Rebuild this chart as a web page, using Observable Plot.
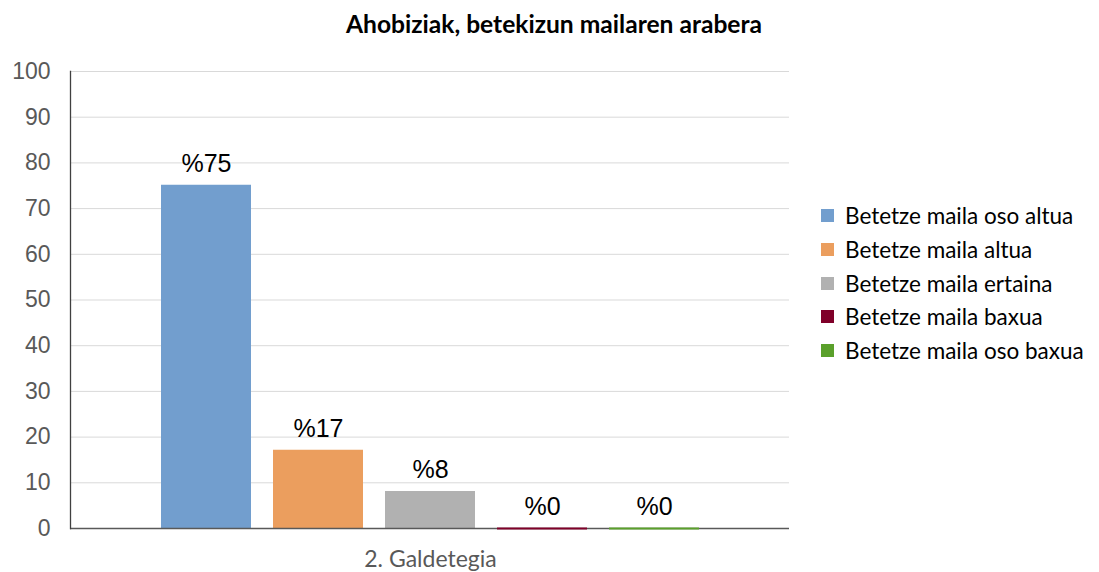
<!DOCTYPE html>
<html>
<head>
<meta charset="utf-8">
<script src="https://cdn.jsdelivr.net/npm/d3@7"></script>
<script src="https://cdn.jsdelivr.net/npm/@observablehq/plot@0.6"></script>
<style>
  html, body { margin: 0; padding: 0; background: #fff; }
  #wrap { position: relative; width: 1099px; height: 572px; overflow: hidden; }
  #title { position: absolute; left: 0; top: 0; width: 1099px; height: 50px; line-height: 48px;
           text-align: center; padding-left: 9px; box-sizing: border-box;
           font-family: Lato, sans-serif; font-weight: bold; font-size: 24.6px; color: #000; }
  #chart { position: absolute; left: 0; top: 50px; }
  #legend { position: absolute; left: 821px; top: 199px; font-family: Lato, sans-serif;
            font-size: 22.5px; color: #000; }
  .row { display: flex; align-items: center; height: 33.7px; white-space: nowrap; }
  .sw { width: 13px; height: 13px; margin-right: 11px; flex: none; }
</style>
</head>
<body>
<div id="wrap">
  <div id="title"></div>
  <div id="chart"></div>
  <div id="legend"></div>
</div>
<script>
const titleText = "Ahobiziak, betekizun mailaren arabera";
const category = "2. Galdetegia";
const series = ["Betetze maila oso altua", "Betetze maila altua", "Betetze maila ertaina", "Betetze maila baxua", "Betetze maila oso baxua"];
const values = [75, 17, 8, 0, 0];
const labels = ["%75", "%17", "%8", "%0", "%0"];
const colors = ["#729ece", "#eb9e5e", "#b1b1b1", "#7f0029", "#5aa02b"];
const yTicks = [0, 10, 20, 30, 40, 50, 60, 70, 80, 90, 100];

const data = series.map((s, i) => ({series: s, value: values[i], label: labels[i]}));

document.getElementById("title").textContent = titleText;

const plot = Plot.plot({
  width: 1099,
  height: 522,
  marginTop: 21,
  marginBottom: 44,
  marginLeft: 70,
  marginRight: 310,
  style: {fontFamily: "Liberation Sans, Arial, sans-serif", background: "#fff"},
  x: {domain: series, paddingInner: 0.2, paddingOuter: 0.7956, axis: null},
  y: {domain: [0, 100], ticks: yTicks, axis: null},
  color: {domain: series, range: colors},
  marks: [
    Plot.gridY(yTicks, {stroke: "#d9d9d9", strokeOpacity: 1, strokeWidth: 1}),
    Plot.barY(data, {x: "series", y: "value", fill: "series"}),
    Plot.ruleY([0], {stroke: "#595959", strokeWidth: 1.3}),
    Plot.tickY(data, {x: "series", y: "value", stroke: "series", strokeWidth: 2}),
    Plot.frame({anchor: "left", stroke: "#404040", strokeWidth: 1.3}),
    Plot.axisY(yTicks, {tickSize: 0, tickPadding: 0, dx: -20, fontSize: 23, fill: "#595959",
      fontFamily: "Liberation Sans, Arial, sans-serif", textAnchor: "end", label: null}),
    Plot.text(data, {x: "series", y: "value", text: "label", dy: -22, fontSize: 25,
      fill: "#000", fontFamily: "Liberation Sans, Arial, sans-serif"}),
    Plot.text([category], {x: () => series[2], frameAnchor: "bottom", dy: 38, fontSize: 23,
      fill: "#595959", fontFamily: "Lato, sans-serif", text: d => d})
  ]
});
document.getElementById("chart").appendChild(plot);

const legend = document.getElementById("legend");
series.forEach((s, i) => {
  const row = document.createElement("div");
  row.className = "row";
  const sw = document.createElement("span");
  sw.className = "sw";
  sw.style.background = colors[i];
  const t = document.createElement("span");
  t.textContent = s;
  row.appendChild(sw);
  row.appendChild(t);
  legend.appendChild(row);
});
</script>
</body>
</html>
